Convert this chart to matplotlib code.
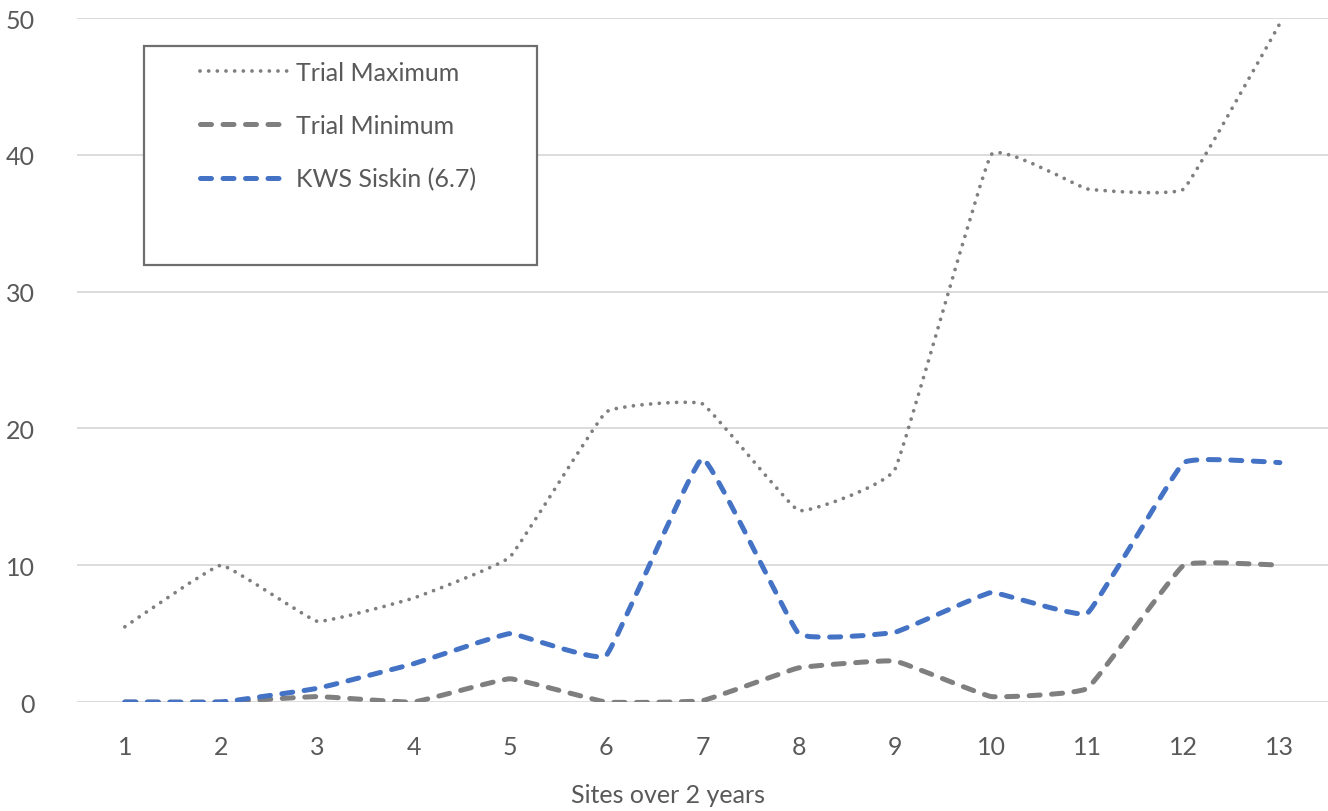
import numpy as np
import matplotlib.pyplot as plt
from matplotlib.path import Path
from matplotlib.patches import PathPatch, Rectangle
from matplotlib.lines import Line2D

plt.rcParams['font.family'] = ['Lato', 'DejaVu Sans']

# Values per site
sites = list(range(1, 14))
trial_max = [5.5, 10.0, 5.9, 7.6, 10.6, 21.2, 21.8, 14.0, 17.0, 40.0, 37.5, 37.5, 49.6]
trial_min = [0.0, 0.0, 0.4, 0.0, 1.7, 0.0, 0.1, 2.5, 3.0, 0.4, 1.0, 10.0, 10.0]
siskin = [0.0, 0.0, 1.0, 2.8, 5.0, 3.4, 17.8, 5.0, 5.1, 8.0, 6.5, 17.5, 17.5]
labels = ['Trial Maximum', 'Trial Minimum', 'KWS Siskin (6.7)']

GREY = '#7F7F7F'
BLUE = '#4472C4'
TXT = '#595959'


def smooth_path(x, y, t=0.045):
    # light cubic bezier smoothing through the points, rounding the corners
    x = np.asarray(x, float)
    y = np.asarray(y, float)
    verts = [(x[0], y[0])]
    codes = [Path.MOVETO]
    n = len(x)
    for i in range(n - 1):
        p0 = (x[max(i - 1, 0)], y[max(i - 1, 0)])
        p1 = (x[i], y[i])
        p2 = (x[i + 1], y[i + 1])
        p3 = (x[min(i + 2, n - 1)], y[min(i + 2, n - 1)])
        c1 = (p1[0] + (p2[0] - p0[0]) * t, p1[1] + (p2[1] - p0[1]) * t)
        c2 = (p2[0] - (p3[0] - p1[0]) * t, p2[1] - (p3[1] - p1[1]) * t)
        verts += [c1, c2, p2]
        codes += [Path.CURVE4] * 3
    return Path(verts, codes)


fig = plt.figure(figsize=(13.28, 8.12), dpi=100)
ax = fig.add_axes([0.0578, 0.1342, 0.9422, 0.8424])

styles = [
    dict(color=GREY, lw=2.7, dashes=(0.01, 2.3), capstyle='round'),
    dict(color=GREY, lw=3.6, dashes=(2.2, 2.3), capstyle='round'),
    dict(color=BLUE, lw=3.6, dashes=(2.2, 2.3), capstyle='round'),
]

for ys, st in zip([trial_max, trial_min, siskin], styles):
    patch = PathPatch(smooth_path(sites, ys), facecolor='none', edgecolor=st['color'],
                      lw=st['lw'], linestyle=(0, st['dashes']), capstyle=st['capstyle'],
                      joinstyle='round', zorder=3)
    ax.add_patch(patch)

ax.set_xlim(0.5, 13.5)
ax.set_ylim(0, 50)
ax.set_xticks(sites)
ax.set_yticks(range(0, 51, 10))
ax.grid(axis='y', color='#D9D9D9', lw=1.3)
ax.set_axisbelow(True)
for s in ax.spines.values():
    s.set_visible(False)
ax.tick_params(length=0, labelsize=18, colors=TXT)
ax.tick_params(axis='y', pad=30)
ax.tick_params(axis='x', pad=24)

fig.text(0.503, 0.006, 'Sites over 2 years', ha='center', va='bottom', fontsize=18, color=TXT)

# Legend box
fig.patches.append(Rectangle((144 / 1328, 1 - 266 / 812), (537 - 144) / 1328, (266 - 47) / 812,
                             transform=fig.transFigure, facecolor='white', edgecolor='#6E6E6E',
                             lw=1.6, zorder=5))
handles = [Line2D([], [], color=st['color'], lw=st['lw'], linestyle=(0, st['dashes']),
                  dash_capstyle=st['capstyle']) for st in styles]
leg = fig.legend(handles, labels, loc='upper left', bbox_to_anchor=(200 / 1328, 1 - 62 / 812),
                 frameon=False, fontsize=18, handlelength=3.6, handletextpad=0.25,
                 labelspacing=1.2, borderpad=0, borderaxespad=0)
for t in leg.get_texts():
    t.set_color(TXT)
leg.set_zorder(6)

fig.savefig('out.png', dpi=100)
